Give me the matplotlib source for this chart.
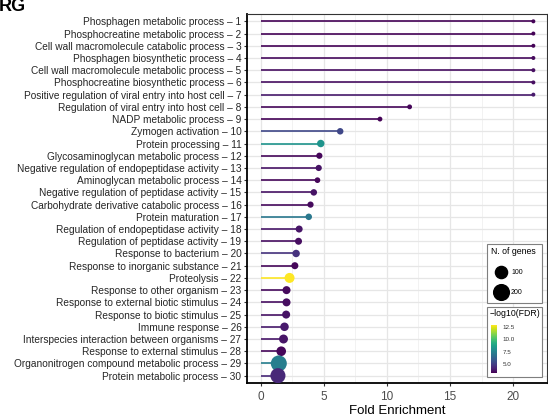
import numpy as np
import matplotlib
matplotlib.use("Agg")
import matplotlib.pyplot as plt
from matplotlib.colors import Normalize
from matplotlib.patches import Rectangle
from matplotlib.lines import Line2D

plt.rcParams['font.family'] = ['Liberation Sans', 'DejaVu Sans']

terms = [
    "Phosphagen metabolic process",
    "Phosphocreatine metabolic process",
    "Cell wall macromolecule catabolic process",
    "Phosphagen biosynthetic process",
    "Cell wall macromolecule metabolic process",
    "Phosphocreatine biosynthetic process",
    "Positive regulation of viral entry into host cell",
    "Regulation of viral entry into host cell",
    "NADP metabolic process",
    "Zymogen activation",
    "Protein processing",
    "Glycosaminoglycan metabolic process",
    "Negative regulation of endopeptidase activity",
    "Aminoglycan metabolic process",
    "Negative regulation of peptidase activity",
    "Carbohydrate derivative catabolic process",
    "Protein maturation",
    "Regulation of endopeptidase activity",
    "Regulation of peptidase activity",
    "Response to bacterium",
    "Response to inorganic substance",
    "Proteolysis",
    "Response to other organism",
    "Response to external biotic stimulus",
    "Response to biotic stimulus",
    "Immune response",
    "Interspecies interaction between organisms",
    "Response to external stimulus",
    "Organonitrogen compound metabolic process",
    "Protein metabolic process",
]
fold = [21.6, 21.6, 21.6, 21.6, 21.6, 21.6, 21.6, 11.8, 9.45, 6.3,
        4.76, 4.65, 4.6, 4.5, 4.21, 3.95, 3.81, 3.05, 3.0, 2.81,
        2.71, 2.29, 2.05, 2.05, 2.02, 1.89, 1.81, 1.63, 1.44, 1.37]
genes = [5, 5, 5, 5, 5, 5, 5, 6, 6, 14,
         22, 12, 12, 9, 14, 12, 14, 18, 18, 22,
         18, 56, 28, 28, 28, 34, 40, 50, 210, 180]
logfdr = [3.3, 3.3, 3.3, 3.5, 3.6, 3.6, 3.9, 3.4, 3.3, 5.3,
          8.2, 3.4, 3.7, 3.4, 3.7, 3.5, 7.1, 3.8, 3.6, 4.6,
          3.4, 12.84, 3.5, 3.6, 3.7, 3.9, 3.8, 3.4, 7.3, 4.3]
legend_genes = [100, 200]
cbar_ticks = [5.0, 7.5, 10.0, 12.5]

dpi = 100
W, H = 548, 416
fig = plt.figure(figsize=(W / dpi, H / dpi), dpi=dpi)


def fx(px):
    return px / W


def fy(py):
    return 1 - py / H


ax = fig.add_axes([fx(247), fy(383), (547 - 247) / W, (383 - 14) / H])

cmap = plt.get_cmap('viridis')
norm = Normalize(vmin=3.25, vmax=12.84)
nmin, nmax = 5, 210


def diam_px(n):
    return 4 + 12 * np.sqrt((np.asarray(n, float) - nmin) / (nmax - nmin))


def area_pt(n):
    return (diam_px(n) * 72 / dpi) ** 2


y = np.arange(1, len(terms) + 1)
cols = cmap(norm(np.array(logfdr)))
ax.hlines(y, 0, fold, colors=cols, linewidth=1.2, zorder=2)
ax.scatter(fold, y, s=area_pt(genes), c=cols, zorder=3, linewidths=0)

ax.set_xlim(-1.08, 22.68)
ax.set_ylim(30.6, 0.4)
ax.set_xticks([0, 5, 10, 15, 20])
ax.set_xticks([2.5, 7.5, 12.5, 17.5], minor=True)
ax.set_yticks(y)
ax.set_yticklabels([f"{t} \u2013 {i}" for i, t in zip(y, terms)], fontsize=7.3, color='#262626')
ax.tick_params(axis='x', labelsize=8.5, labelcolor='#4d4d4d', color='#333333', length=2.5)
ax.tick_params(axis='x', which='minor', length=0)
ax.tick_params(axis='y', color='#333333', length=2.5, pad=1.5)
ax.grid(True, which='major', color='#e6e6e6', linewidth=0.9, zorder=0)
ax.grid(True, which='minor', axis='x', color='#f0f0f0', linewidth=0.6, zorder=0)
ax.set_axisbelow(True)
for s in ['top', 'right']:
    ax.spines[s].set_color('#333333')
    ax.spines[s].set_linewidth(0.8)
for s in ['left', 'bottom']:
    ax.spines[s].set_color('black')
    ax.spines[s].set_linewidth(1.3)
ax.set_xlabel("Fold Enrichment", fontsize=9.5, labelpad=1)

fig.text(fx(-1), fy(11), "RG", fontsize=13, fontweight='bold', va='baseline', ha='left')

# size legend (drawn by hand in figure pixels)
fig.patches.append(Rectangle((fx(487), fy(303)), (542 - 487) / W, (303 - 244) / H,
                             transform=fig.transFigure, facecolor='white',
                             edgecolor='#7f7f7f', linewidth=0.8, zorder=5))
fig.text(fx(491), fy(252), "N. of genes", fontsize=6.3, va='center', ha='left', zorder=6)
for n, py in zip(legend_genes, [272, 292]):
    fig.add_artist(Line2D([fx(501)], [fy(py)], transform=fig.transFigure, linestyle='none',
                          marker='o', color='black', markersize=diam_px(n) * 72 / dpi, zorder=6))
    fig.text(fx(511), fy(py), str(n), fontsize=5, va='center', ha='left', zorder=6)

# colour legend
fig.patches.append(Rectangle((fx(487), fy(377)), (542 - 487) / W, (377 - 307) / H,
                             transform=fig.transFigure, facecolor='white',
                             edgecolor='#7f7f7f', linewidth=0.8, zorder=5))
fig.text(fx(490), fy(314), "\u2212log10(FDR)", fontsize=6.3, va='center', ha='left', zorder=6)
cax = fig.add_axes([fx(491), fy(373), 6 / W, 48 / H], zorder=7)
cb = fig.colorbar(plt.cm.ScalarMappable(norm=norm, cmap=cmap), cax=cax)
cb.set_ticks(cbar_ticks)
cb.set_ticklabels([f"{t:.1f}" for t in cbar_ticks])
cb.ax.tick_params(labelsize=4.5, length=1.5, color='white', pad=2.5, labelcolor='#333333')
cb.outline.set_visible(False)

fig.savefig('out.png', dpi=dpi)
